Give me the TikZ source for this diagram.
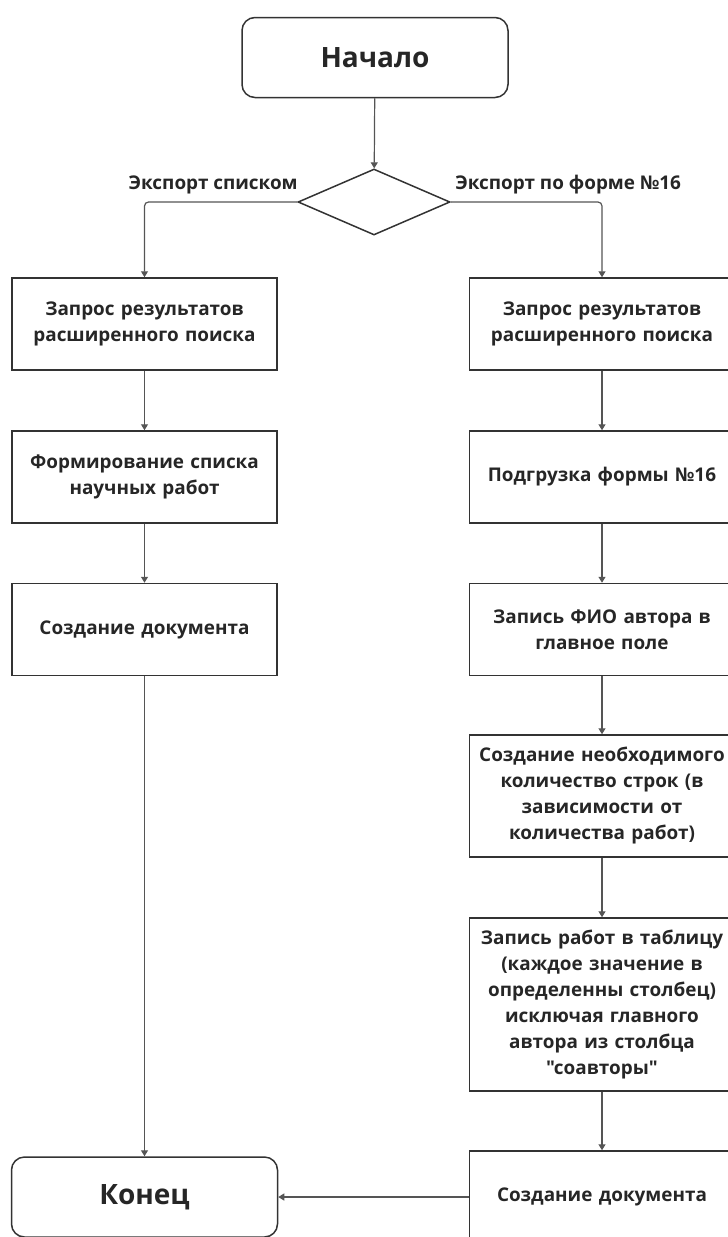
\documentclass[tikz,border=0pt]{standalone}
\usepackage{fontspec}
\setmainfont{Open Sans}[Ligatures=TeXOff]
\usetikzlibrary{shapes.geometric, arrows.meta}

\definecolor{edge}{HTML}{333333}
\definecolor{wire}{HTML}{555555}

\tikzset{
  terminal/.style={draw=edge, line width=1.5pt, rounded corners=13pt, minimum width=266pt, minimum height=80pt, text=black!85, font=\fontsize{28}{32}\selectfont\bfseries},
  process/.style={draw=edge, line width=1.5pt, minimum width=265pt, minimum height=92pt, text width=262pt, align=center, inner sep=0pt, text=black!85, font=\fontsize{18.9}{26}\selectfont\bfseries},
  decision/.style={draw=edge, line width=1.5pt, diamond, minimum width=152pt, minimum height=66pt, inner sep=0pt},
  flow/.style={draw=wire, line width=1.2pt, -{Triangle[width=7pt,length=6pt]}},
  branch/.style={text=black!85, font=\fontsize{18.9}{22}\selectfont\bfseries}
}

\begin{document}
\begin{tikzpicture}[x=1pt, y=-1pt]
    \useasboundingbox (0,0) rectangle (728,1237);
    \clip (0,0) rectangle (728,1237);

    % Start and decision
    \node (start) at (375,57.5) [terminal] {Начало};
    \node (dec) at (374,202) [decision] {};
    \node (lblL) at ([xshift=4pt, yshift=13pt]dec.west) [branch, anchor=base east] {Экспорт списком};
    \node (lblR) at ([xshift=1pt, yshift=13pt]dec.east) [branch, anchor=base west] {Экспорт по форме №16};

    % Left column
    \node (L1) at (144.5,324) [process] {Запрос результатов\\расширенного поиска};
    \node (L2) at (144.5,477) [process] {Формирование списка\\научных работ};
    \node (L3) at (144.5,629.5) [process] {Создание документа};
    \node (end) at (144.5,1197) [terminal] {Конец};

    % Right column
    \node (R1) at (602,324) [process] {Запрос результатов\\расширенного поиска};
    \node (R2) at (602,477) [process] {Подгрузка формы №16};
    \node (R3) at (602,629.5) [process] {Запись ФИО автора в\\главное поле};
    \node (R4) at (602,796) [process, minimum height=122pt] {Создание необходимого\\количество строк (в\\зависимости от\\количества работ)};
    \node (R5) at (602,1004.5) [process, minimum height=173pt] {Запись работ в таблицу\\(каждое значение в\\определенны столбец)\\исключая главного\\автора из столбца\\"соавторы"};
    \node (R6) at (602,1197) [process] {Создание документа};

    % Connectors
    \draw[flow] (start) -- (dec);
    \draw[flow, rounded corners=4pt] (dec.west) -| (L1.north);
    \draw[flow, rounded corners=4pt] (dec.east) -| (R1.north);
    \draw[flow] (L1) -- (L2);
    \draw[flow] (L2) -- (L3);
    \draw[flow] (L3) -- (end);
    \draw[flow] (R1) -- (R2);
    \draw[flow] (R2) -- (R3);
    \draw[flow] (R3) -- (R4);
    \draw[flow] (R4) -- (R5);
    \draw[flow] (R5) -- (R6);
    \draw[flow] (R6) -- (end);

\end{tikzpicture}
\end{document}
